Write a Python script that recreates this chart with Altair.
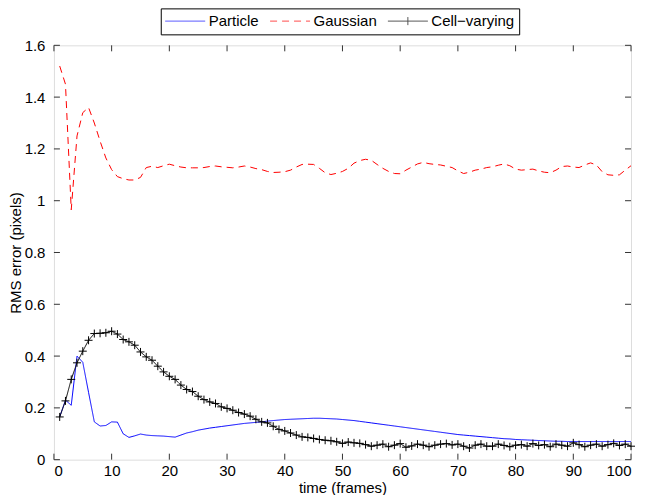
import altair as alt
import pandas as pd

frames = list(range(1, 101))

particle = [
    0.165, 0.230, 0.210, 0.400, 0.376, 0.260, 0.146, 0.130, 0.132, 0.146,
    0.145, 0.100, 0.086, 0.092, 0.099, 0.095, 0.093, 0.092, 0.091, 0.089,
    0.087, 0.095, 0.103, 0.108, 0.114, 0.118, 0.122, 0.125, 0.128, 0.131,
    0.134, 0.137, 0.140, 0.142, 0.144, 0.146, 0.149, 0.151, 0.153, 0.155,
    0.156, 0.157, 0.158, 0.159, 0.160, 0.160, 0.159, 0.158, 0.157, 0.155,
    0.153, 0.151, 0.148, 0.145, 0.142, 0.139, 0.136, 0.133, 0.130, 0.127,
    0.124, 0.121, 0.118, 0.115, 0.112, 0.109, 0.106, 0.103, 0.100, 0.097,
    0.095, 0.093, 0.091, 0.089, 0.087, 0.085, 0.083, 0.081, 0.080, 0.078,
    0.077, 0.076, 0.075, 0.074, 0.073, 0.072, 0.071, 0.071, 0.070, 0.070,
    0.070, 0.070, 0.070, 0.070, 0.070, 0.070, 0.070, 0.070, 0.070, 0.070,
]

gaussian = [
    1.520, 1.450, 0.965, 1.250, 1.340, 1.360, 1.300, 1.230, 1.165, 1.120,
    1.093, 1.085, 1.080, 1.080, 1.090, 1.128, 1.133, 1.128, 1.135, 1.141,
    1.135, 1.130, 1.127, 1.127, 1.127, 1.128, 1.132, 1.134, 1.131, 1.129,
    1.127, 1.130, 1.134, 1.130, 1.124, 1.120, 1.113, 1.109, 1.110, 1.112,
    1.118, 1.130, 1.140, 1.141, 1.140, 1.125, 1.108, 1.101, 1.106, 1.113,
    1.125, 1.145, 1.155, 1.160, 1.156, 1.140, 1.125, 1.113, 1.105, 1.104,
    1.118, 1.130, 1.142, 1.148, 1.143, 1.140, 1.138, 1.133, 1.128, 1.115,
    1.105, 1.110, 1.118, 1.122, 1.128, 1.131, 1.137, 1.142, 1.135, 1.122,
    1.118, 1.120, 1.122, 1.115, 1.110, 1.108, 1.118, 1.132, 1.134, 1.130,
    1.128, 1.138, 1.146, 1.138, 1.112, 1.100, 1.098, 1.100, 1.118, 1.135,
]

cell_varying = [
    0.165, 0.227, 0.310, 0.374, 0.419, 0.461, 0.487, 0.488, 0.490, 0.496,
    0.485, 0.464, 0.455, 0.442, 0.416, 0.397, 0.384, 0.361, 0.339, 0.322,
    0.310, 0.288, 0.271, 0.263, 0.245, 0.232, 0.223, 0.217, 0.204, 0.198,
    0.191, 0.182, 0.176, 0.168, 0.156, 0.146, 0.142, 0.129, 0.117, 0.111,
    0.103, 0.095, 0.088, 0.086, 0.082, 0.078, 0.075, 0.073, 0.069, 0.063,
    0.068, 0.065, 0.063, 0.058, 0.052, 0.056, 0.060, 0.050, 0.056, 0.062,
    0.048, 0.053, 0.060, 0.056, 0.050, 0.056, 0.060, 0.062, 0.057, 0.060,
    0.052, 0.045, 0.056, 0.060, 0.052, 0.052, 0.060, 0.055, 0.050, 0.056,
    0.058, 0.052, 0.062, 0.055, 0.058, 0.050, 0.060, 0.056, 0.052, 0.065,
    0.058, 0.050, 0.056, 0.060, 0.052, 0.058, 0.063, 0.055, 0.060, 0.052,
]

series_names = ["Particle", "Gaussian", "Cell\u2212varying"]
series_colors = ["#0000ff", "#ff0000", "#000000"]
series_dashes = [[1, 0], [7, 5], [1, 0]]

x_ticks = [0, 10, 20, 30, 40, 50, 60, 70, 80, 90, 100]
y_ticks = [0, 0.2, 0.4, 0.6, 0.8, 1.0, 1.2, 1.4, 1.6]

FONT = "Liberation Sans"
W, H = 578, 415
FRAME = "#333333"
TICK_LEN = 6

rows = []
for name, vals in zip(series_names, [particle, gaussian, cell_varying]):
    for f, v in zip(frames, vals):
        rows.append({"frame": f, "rms": v, "series": name})
df = pd.DataFrame(rows)

xscale = alt.Scale(domain=[0, 100], nice=False, zero=False)
yscale = alt.Scale(domain=[0, 1.6], nice=False, zero=False)

color_scale = alt.Scale(domain=series_names, range=series_colors)
dash_scale = alt.Scale(domain=series_names, range=series_dashes)
LINE_PATH = "M-4,0L4,0"
CROSS_LINE_PATH = "M-4,0L4,0M0,-0.8L0,0.8"
shape_scale = alt.Scale(domain=series_names, range=[LINE_PATH, LINE_PATH, CROSS_LINE_PATH])

legend = alt.Legend(
    title=None, orient="none", legendX=107, legendY=-37,
    direction="horizontal", strokeColor="#000000", fillColor="white",
    padding=5, labelFont=FONT, labelFontSize=15, labelColor="#000000",
    symbolSize=100, symbolStrokeWidth=1, symbolOffset=12, labelOffset=16,
    columnPadding=8,
)

x_axis = alt.Axis(values=x_ticks, ticks=False, domain=False, grid=False,
                  labelFont=FONT, labelFontSize=15, labelColor="#000",
                  labelPadding=4, title="time (frames)", titleFont=FONT,
                  titleFontSize=15, titleFontWeight="normal", titleColor="#000",
                  titlePadding=2)
y_axis = alt.Axis(values=y_ticks, ticks=False, domain=False, grid=False,
                  labelFont=FONT, labelFontSize=15, labelColor="#000",
                  labelPadding=9, title="RMS error (pixels)", titleFont=FONT,
                  titleFontSize=15, titleFontWeight="normal", titleColor="#000",
                  titleX=-30, titleY=H / 2, format="~g")

base = alt.Chart(df)

lines = base.mark_line(strokeWidth=1).encode(
    x=alt.X("frame:Q", scale=xscale, axis=x_axis),
    y=alt.Y("rms:Q", scale=yscale, axis=y_axis),
    color=alt.Color("series:N", scale=color_scale, legend=legend),
    strokeDash=alt.StrokeDash("series:N", scale=dash_scale, legend=legend),
    detail="series:N",
)

legend_driver = base.mark_point(filled=False, strokeWidth=1).encode(
    x=alt.X("frame:Q", scale=xscale),
    y=alt.Y("rms:Q", scale=yscale),
    color=alt.Color("series:N", scale=color_scale, legend=legend),
    strokeDash=alt.StrokeDash("series:N", scale=dash_scale, legend=legend),
    shape=alt.Shape("series:N", scale=shape_scale, legend=legend),
).transform_filter("false")

crosses = base.mark_point(
    shape="M-1,0L1,0M0,-1L0,1", filled=False, size=64, strokeWidth=1,
    color="#000000", opacity=1,
).encode(
    x=alt.X("frame:Q", scale=xscale),
    y=alt.Y("rms:Q", scale=yscale),
).transform_filter(alt.datum.series == series_names[2])

xt = pd.DataFrame({"frame": x_ticks})
yt = pd.DataFrame({"rms": y_ticks})

bottom_ticks = alt.Chart(xt).mark_rule(color=FRAME, strokeWidth=1).encode(
    x=alt.X("frame:Q", scale=xscale), y=alt.value(H), y2=alt.value(H - TICK_LEN))
top_ticks = alt.Chart(xt).mark_rule(color=FRAME, strokeWidth=1).encode(
    x=alt.X("frame:Q", scale=xscale), y=alt.value(0), y2=alt.value(TICK_LEN))
left_ticks = alt.Chart(yt).mark_rule(color=FRAME, strokeWidth=1).encode(
    y=alt.Y("rms:Q", scale=yscale), x=alt.value(0), x2=alt.value(TICK_LEN))
right_ticks = alt.Chart(yt).mark_rule(color=FRAME, strokeWidth=1).encode(
    y=alt.Y("rms:Q", scale=yscale), x=alt.value(W), x2=alt.value(W - TICK_LEN))

chart = alt.layer(
    bottom_ticks, top_ticks, left_ticks, right_ticks,
    lines, crosses, legend_driver,
).properties(
    width=W, height=H,
    autosize=alt.AutoSizeParams(type="none"),
    padding={"left": 46, "top": 37, "right": 6, "bottom": 35},
).configure_view(
    stroke=FRAME, strokeWidth=1,
).configure(background="white")

chart.save("out.html", embed_options={"renderer": "svg", "actions": False})
